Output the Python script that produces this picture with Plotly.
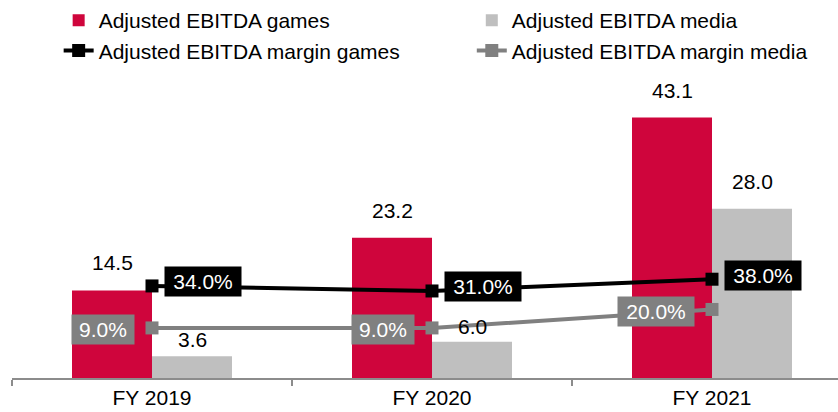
import plotly.graph_objects as go

years = ["FY 2019", "FY 2020", "FY 2021"]
ebitda_games = [14.5, 23.2, 43.1]
ebitda_media = [3.6, 6.0, 28.0]
margin_games = [34.0, 31.0, 38.0]
margin_media = [9.0, 9.0, 20.0]

RED = "#CF053C"
LIGHT = "#BFBFBF"
DARK = "#808080"
FONT = "Liberation Sans, Arial, sans-serif"

fig = go.Figure()

# left legend column: games, right column: media
fig.add_trace(go.Bar(
    x=years, y=ebitda_games, name="Adjusted EBITDA games",
    marker=dict(color=RED, line=dict(width=0)), hoverinfo="skip",
    legend="legend",
))
fig.add_trace(go.Bar(
    x=years, y=ebitda_media, name="Adjusted EBITDA media",
    marker=dict(color=LIGHT, line=dict(width=0)), hoverinfo="skip",
    legend="legend2",
))
fig.add_trace(go.Scatter(
    x=years, y=margin_games, name="Adjusted EBITDA margin games",
    mode="lines+markers", yaxis="y2", legend="legend",
    line=dict(color="black", width=4),
    marker=dict(symbol="square", size=13, color="black"),
))
fig.add_trace(go.Scatter(
    x=years, y=margin_media, name="Adjusted EBITDA margin media",
    mode="lines+markers", yaxis="y2", legend="legend2",
    line=dict(color=DARK, width=4),
    marker=dict(symbol="square", size=13, color=DARK),
))

annotations = []
# value labels above the bars (the two small media ones sit lower in the original)
media_lift = [3, 2, 14]
for yr, g, m, lift in zip(years, ebitda_games, ebitda_media, media_lift):
    annotations.append(dict(
        x=yr, y=g, xref="x", yref="y", text=f"{g:.1f}", showarrow=False,
        xshift=-40, yshift=14, yanchor="bottom",
        font=dict(size=21, color="black", family=FONT),
    ))
    annotations.append(dict(
        x=yr, y=m, xref="x", yref="y", text=f"{m:.1f}", showarrow=False,
        xshift=40, yshift=lift, yanchor="bottom",
        font=dict(size=21, color="black", family=FONT),
    ))

# boxed margin labels
for yr, v in zip(years, margin_games):
    txt = f"{v:.1f}%"
    annotations.append(dict(
        x=yr, y=v, xref="x", yref="y2", text=txt, showarrow=False,
        xanchor="left", xshift=12, yshift=4,
        bgcolor="black", borderpad=3, width=14 * len(txt),
        font=dict(size=21, color="white", family=FONT),
    ))
for yr, v in zip(years, margin_media):
    txt = f"{v:.1f}%"
    annotations.append(dict(
        x=yr, y=v, xref="x", yref="y2", text=txt, showarrow=False,
        xanchor="right", xshift=-17, yshift=-2,
        bgcolor=DARK, borderpad=3, width=14 * len(txt),
        font=dict(size=21, color="white", family=FONT),
    ))

# horizontal legends whose entries are too wide to share a row -> one per row
legend_common = dict(
    orientation="h", yref="container", y=1.0, yanchor="top",
    xref="container", xanchor="left",
    entrywidth=400, entrywidthmode="pixels",
    font=dict(size=21, family=FONT), itemclick=False,
    traceorder="normal", bgcolor="rgba(0,0,0,0)",
)

fig.update_layout(
    width=838, height=412,
    paper_bgcolor="white", plot_bgcolor="white",
    font=dict(family=FONT, size=21, color="black"),
    margin=dict(l=12, r=0, t=85, b=34),
    barmode="group", bargap=0.4286, bargroupgap=0,
    showlegend=True,
    legend=dict(legend_common, x=0.070),
    legend2=dict(legend_common, x=0.563),
    xaxis=dict(
        type="category", range=[-0.5, 2.45],
        showline=True, linecolor="#8C8C8C", linewidth=1.5,
        ticks="outside", tickson="boundaries", ticklen=6,
        tickcolor="#8C8C8C", tickwidth=1.5,
        showgrid=False, fixedrange=True,
        tickfont=dict(size=21, family=FONT),
    ),
    yaxis=dict(range=[0, 48.5], visible=False, showgrid=False, fixedrange=True),
    yaxis2=dict(range=[-20.8, 153.6], overlaying="y", visible=False,
                showgrid=False, fixedrange=True),
    annotations=annotations,
)

fig.write_html(
    "out.html",
    config={"displayModeBar": False},
    post_script="document.body.style.margin='0';",
)
